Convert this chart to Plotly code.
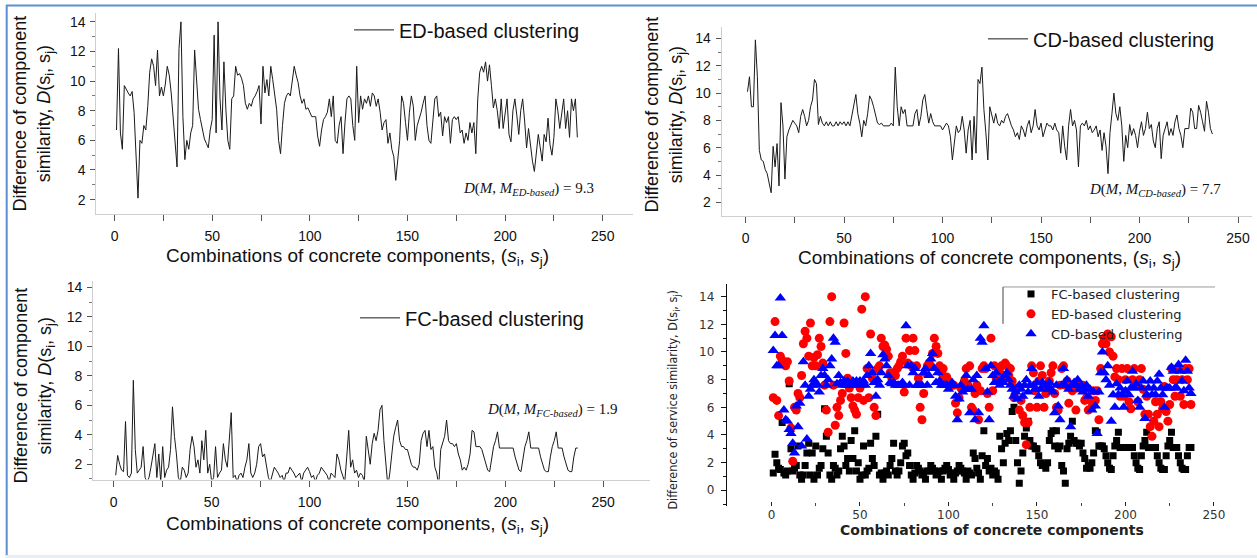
import plotly.graph_objects as go

W, H = 1257, 558

# ---------------- data ----------------
ed_vals = [
    6.7, 12.2, 6.5, 5.4, 9.7, 9.4, 9.2, 9.0, 9.3, 7.9,
    4.5, 2.1, 6.0, 5.8, 7.0, 6.7, 8.3, 10.6, 11.5, 11.0,
    9.7, 12.1, 9.0, 9.6, 9.0, 9.8, 11.0, 10.4, 9.2, 7.6,
    5.8, 4.2, 12.2, 14.0, 7.6, 4.7, 6.0, 5.4, 6.5, 7.0,
    12.1, 9.9, 8.1, 7.4, 6.7, 6.1, 5.8, 5.5, 6.7, 7.4,
    13.1, 6.5, 14.0, 8.8, 6.7, 11.3, 8.1, 6.0, 5.4, 8.8,
    9.0, 11.0, 10.4, 10.5, 10.2, 9.7, 8.5, 8.1, 8.5, 8.3,
    8.8, 9.0, 9.3, 9.7, 7.1, 11.0, 9.2, 10.1, 9.0, 11.0,
    10.1, 9.0, 8.1, 6.0, 5.1, 7.0, 8.5, 9.0, 9.2, 9.0,
    9.9, 11.0, 10.4, 9.9, 9.0, 8.5, 8.8, 8.1, 8.2, 7.9,
    7.6, 7.6, 7.6, 6.3, 5.6, 6.7, 7.4, 7.6, 7.9, 8.8,
    7.6, 9.0, 6.0, 5.8, 7.0, 7.6, 5.1, 7.2, 8.8, 9.0,
    8.8, 7.0, 6.0, 11.0, 7.2, 9.0, 8.1, 8.8, 8.5, 9.0,
    8.3, 9.2, 9.0, 8.3, 8.8, 7.9, 6.7, 7.2, 7.4, 5.8,
    6.5, 5.4, 4.9, 3.3, 4.9, 6.0, 9.0, 8.5, 7.2, 6.0,
    7.9, 9.0, 8.3, 6.0, 7.0, 7.4, 7.9, 8.5, 9.0, 7.0,
    6.0, 5.8, 7.6, 8.8, 9.0, 7.6, 7.9, 6.3, 7.6, 7.2,
    7.6, 5.8, 7.4, 7.6, 7.4, 7.6, 6.5, 6.7, 5.8, 6.5,
    6.0, 7.2, 6.5, 7.2, 5.1, 8.8, 10.6, 11.0, 10.6, 11.3,
    10.0, 11.1, 9.7, 8.2, 8.8, 8.0, 6.8, 8.8, 6.8, 8.0,
    8.8, 6.4, 5.9, 8.0, 8.8, 7.7, 6.4, 8.0, 8.8, 7.3,
    5.5, 6.8, 5.5, 4.6, 3.9, 5.0, 6.4, 5.5, 4.6, 6.4,
    5.9, 7.5, 5.7, 5.0, 6.2, 8.8, 8.0, 6.8, 8.0, 8.8,
    6.8, 8.0, 6.2, 8.8, 8.0, 8.8, 6.2,
]

cd_vals = [
    10.1, 11.2, 9.0, 9.0, 13.9, 11.2, 5.8, 5.1, 5.0, 4.4,
    4.1, 3.4, 2.7, 6.1, 4.6, 6.3, 3.2, 9.3, 7.6, 3.7,
    6.8, 7.3, 7.6, 8.0, 7.8, 7.6, 7.1, 8.3, 8.8, 8.3,
    7.6, 8.0, 9.0, 9.5, 11.0, 10.7, 7.7, 8.3, 7.8, 7.6,
    7.9, 7.6, 7.9, 7.6, 7.6, 7.9, 7.6, 7.9, 7.7, 7.9,
    7.6, 7.9, 7.6, 8.3, 9.0, 9.9, 8.5, 7.8, 6.8, 8.0,
    7.6, 8.5, 9.8, 9.5, 9.0, 8.3, 7.8, 7.7, 7.8, 7.6,
    7.6, 7.6, 7.6, 7.8, 7.6, 11.9, 9.0, 7.6, 9.0, 8.5,
    8.8, 7.6, 7.6, 7.6, 7.6, 8.5, 8.8, 7.6, 8.3, 9.5,
    9.9, 8.8, 7.8, 8.5, 7.9, 7.6, 7.6, 7.6, 7.6, 7.3,
    7.6, 7.8, 7.6, 6.8, 5.1, 6.6, 7.6, 7.1, 7.3, 8.3,
    7.3, 5.6, 7.3, 8.0, 5.1, 8.3, 5.6, 11.0, 10.7, 11.9,
    8.8, 7.1, 5.1, 9.0, 8.3, 7.8, 8.5, 7.8, 7.6, 8.0,
    7.8, 8.3, 8.5, 8.0, 7.6, 7.3, 6.8, 7.1, 6.6, 7.6,
    7.3, 6.8, 7.6, 8.0, 7.1, 7.6, 8.8, 7.6, 7.3, 7.8,
    6.8, 7.3, 7.8, 7.6, 7.6, 7.3, 7.8, 7.3, 7.1, 5.6,
    7.6, 6.1, 5.1, 7.6, 8.8, 7.6, 8.0, 7.3, 4.6, 7.6,
    7.8, 7.6, 8.0, 7.3, 7.6, 7.1, 7.3, 7.6, 6.8, 7.3,
    5.8, 7.1, 6.1, 4.1, 7.1, 8.5, 10.0, 8.5, 8.0, 9.0,
    7.6, 5.0, 6.9, 6.0, 7.7, 6.9, 7.4, 6.9, 6.0, 7.2,
    7.9, 6.9, 7.4, 8.6, 7.4, 7.7, 6.5, 6.0, 7.4, 7.9,
    5.2, 6.9, 7.4, 7.9, 6.9, 7.4, 6.9, 7.9, 8.4, 7.4,
    6.9, 6.0, 7.4, 7.4, 7.4, 8.9, 8.6, 7.4, 7.4, 9.1,
    8.6, 7.9, 7.2, 9.4, 8.6, 7.4, 7.0,
]

fc_vals = [
    1.25, 2.6, 2.0, 1.6, 1.5, 4.9, 1.25, 1.1, 1.4, 7.7,
    3.0, 1.4, 1.6, 1.8, 3.2, 1.1, 0.8, 1.1, 1.8, 2.7,
    3.4, 1.1, 2.7, 0.8, 3.2, 1.1, 1.6, 1.8, 3.0, 5.9,
    3.9, 2.7, 1.1, 0.8, 1.8, 1.6, 1.1, 1.4, 3.0, 3.9,
    3.2, 1.8, 2.3, 1.4, 3.6, 2.3, 4.3, 1.4, 2.0, 0.8,
    1.1, 3.2, 1.1, 1.4, 1.6, 3.4, 2.3, 1.8, 3.9, 5.5,
    1.1, 1.25, 0.8, 1.25, 1.4, 1.1, 1.8, 2.3, 3.4, 1.4,
    1.1, 1.4, 2.0, 3.2, 3.4, 2.5, 2.7, 1.8, 1.1, 0.8,
    1.25, 1.8, 1.6, 1.4, 1.1, 1.25, 0.8, 1.4, 1.4, 1.8,
    1.6, 1.4, 1.1, 1.25, 1.4, 0.8, 1.4, 1.6, 1.8, 1.5,
    1.1, 1.25, 0.8, 1.25, 1.4, 1.8, 1.6, 1.4, 1.25, 0.8,
    1.4, 1.25, 1.1, 2.7, 2.3, 1.6, 1.25, 0.8, 2.5, 4.3,
    1.8, 2.3, 1.4, 1.6, 1.1, 1.4, 1.25, 0.8, 3.9, 3.0,
    2.0, 3.4, 4.1, 3.6, 4.3, 5.7, 6.0, 3.6, 2.0, 0.5,
    1.4, 2.7, 3.9, 4.5, 5.0, 3.6, 3.2, 3.2, 3.0, 3.0,
    2.5, 2.0, 1.8, 1.8, 1.6, 2.0, 3.6, 4.1, 4.3, 3.2,
    4.3, 3.0, 3.2, 1.8, 1.4, 0.5, 3.0, 3.4, 3.9, 5.0,
    3.6, 3.4, 3.4, 3.2, 3.4, 2.7, 2.3, 1.6, 1.8, 1.6,
    2.0, 2.7, 4.3, 4.2, 3.2, 3.2, 3.2, 3.0, 2.5, 2.0,
    1.6, 1.5, 2.5, 3.2, 3.6, 4.2, 3.1, 3.1, 3.1, 3.1,
    3.1, 3.1, 3.1, 3.1, 2.5, 2.0, 1.6, 1.5, 2.5, 3.2,
    3.6, 4.2, 3.1, 3.1, 3.1, 3.1, 3.1, 2.5, 2.0, 1.6,
    1.5, 1.5, 2.5, 3.2, 3.6, 4.2, 3.1, 3.1, 3.1, 2.5,
    2.0, 1.6, 1.5, 1.5, 2.5, 3.1, 3.1,
]

series_names = ["FC-based clustering", "ED-based clustering", "CD-based clustering"]
d_scores = {"ED": "9.3", "CD": "7.7", "FC": "1.9"}
x_dtick = 50
y_dtick = 2

ed_x = list(range(1, len(ed_vals) + 1))
cd_x = list(range(1, len(cd_vals) + 1))
fc_x = list(range(1, len(fc_vals) + 1))

# ---------------- helpers ----------------
def fx(p):
    return p / W


def fy(p):
    return 1 - p / H


SANS = "Liberation Sans, Arial, sans-serif"
SERIF = "Liberation Serif, Times New Roman, serif"
WIDE = "DejaVu Sans, Verdana, sans-serif"
NARROW = "Liberation Sans Narrow, Arial Narrow, DejaVu Sans Condensed, sans-serif"

LINE_COLOR = "#1a1a1a"


def line_xaxis(dom, rng, anchor):
    return dict(
        domain=[fx(dom[0]), fx(dom[1])], range=rng, anchor=anchor,
        showline=True, linecolor="#cfcfcf", linewidth=1,
        showgrid=False, zeroline=False,
        tick0=0, dtick=x_dtick, ticks="outside", ticklen=6, tickcolor="#555",
        minor=dict(dtick=25, ticks="outside", ticklen=6, tickcolor="#555"),
        tickfont=dict(family=SANS, size=14, color="#111"),
        ticklabelstandoff=4,
    )


def line_yaxis(dom, rng, anchor):
    return dict(
        domain=[fy(dom[1]), fy(dom[0])], range=rng, anchor=anchor,
        showline=True, linecolor="#cfcfcf", linewidth=1,
        showgrid=False, zeroline=False,
        tick0=0, dtick=y_dtick, ticks="outside", ticklen=5, tickcolor="#555",
        minor=dict(dtick=1, ticks="outside", ticklen=3, tickcolor="#777"),
        tickfont=dict(family=SANS, size=14, color="#111"),
        ticklabelstandoff=2,
    )


fig = go.Figure()

# ---- line panels ----
fig.add_trace(go.Scatter(x=ed_x, y=ed_vals, mode="lines", name=series_names[1],
                         line=dict(color=LINE_COLOR, width=1),
                         xaxis="x", yaxis="y", legend="legend"))
fig.add_trace(go.Scatter(x=cd_x, y=cd_vals, mode="lines", name=series_names[2],
                         line=dict(color=LINE_COLOR, width=1),
                         xaxis="x2", yaxis="y2", legend="legend2"))
fig.add_trace(go.Scatter(x=fc_x, y=fc_vals, mode="lines", name=series_names[0],
                         line=dict(color=LINE_COLOR, width=1),
                         xaxis="x3", yaxis="y3", legend="legend3"))

# ---- scatter panel ----
fig.add_trace(go.Scatter(x=fc_x, y=fc_vals, mode="markers", name=series_names[0],
                         marker=dict(symbol="square", size=7, color="#000000"),
                         xaxis="x4", yaxis="y4", legend="legend4"))
fig.add_trace(go.Scatter(x=ed_x, y=ed_vals, mode="markers", name=series_names[1],
                         marker=dict(symbol="circle", size=9, color="#ff0000"),
                         xaxis="x4", yaxis="y4", legend="legend4"))
fig.add_trace(go.Scatter(x=cd_x, y=cd_vals, mode="markers", name=series_names[2],
                         marker=dict(symbol="triangle-up", size=10, color="#0000ff"),
                         xaxis="x4", yaxis="y4", legend="legend4"))

legend_common = dict(bgcolor="rgba(0,0,0,0)", borderwidth=0, xanchor="left",
                     yanchor="middle", itemwidth=40,
                     font=dict(family=SANS, size=20, color="#111"))

layout = dict(
    width=W, height=H, margin=dict(l=0, r=0, t=0, b=0),
    paper_bgcolor="white", plot_bgcolor="white", showlegend=True,
    xaxis=line_xaxis((96.4, 633), [-9.3, 265.5], "y"),
    yaxis=line_yaxis((11, 212.3), [1.06, 14.6], "x"),
    xaxis2=line_xaxis((721.7, 1252), [-12.1, 257.1], "y2"),
    yaxis2=line_yaxis((25, 214.3), [1.03, 14.85], "x2"),
    xaxis3=line_xaxis((93.2, 650), [-10.5, 273.9], "y3"),
    yaxis3=line_yaxis((280, 479.3), [0.96, 14.44], "x3"),
    xaxis4=dict(
        domain=[fx(726.9), fx(1235)], range=[-25.2, 261.9], anchor="y4",
        showline=False, showgrid=False, zeroline=False,
        tick0=0, dtick=x_dtick, ticks="inside", ticklen=4, tickcolor="#222",
        minor=dict(dtick=25, ticks="inside", ticklen=3, tickcolor="#444"),
        tickfont=dict(family=WIDE, size=12, color="#333"),
        ticklabelstandoff=0,
    ),
    yaxis4=dict(
        domain=[fy(506), fy(282.7)], range=[-1.15, 14.94], anchor="x4",
        showline=True, linecolor="#111", linewidth=1.3,
        showgrid=False, zeroline=False,
        tick0=0, dtick=y_dtick, ticks="outside", ticklen=5, tickcolor="#111",
        minor=dict(dtick=1, ticks="outside", ticklen=3, tickcolor="#111"),
        tickfont=dict(family=WIDE, size=12, color="#333"),
        ticklabelstandoff=4,
    ),
    legend=dict(legend_common, x=fx(349), y=fy(28)),
    legend2=dict(legend_common, x=fx(983), y=fy(37)),
    legend3=dict(legend_common, x=fx(355), y=fy(317)),
    legend4=dict(bgcolor="rgba(0,0,0,0)", borderwidth=0, xanchor="left", yanchor="top",
                 x=fx(1011), y=fy(278), font=dict(family=WIDE, size=13, color="#222")),
)
fig.update_layout(**layout)

# ---------------- titles & notes ----------------
ytitle_line = "Difference of component<br>similarity, <i>D</i>(s<sub>i</sub>, s<sub>j</sub>)"
xtitle_line = "Combinations of concrete components, (<i>s</i><sub>i</sub>, <i>s</i><sub>j</sub>)"

ann = []
for cx, cy in [(33, 112), (665, 113), (34, 385)]:
    ann.append(dict(x=fx(cx), y=fy(cy), xref="paper", yref="paper", text=ytitle_line,
                    textangle=-90, showarrow=False, xanchor="center", yanchor="middle",
                    font=dict(family=SANS, size=18, color="#111")))
for cx, cy in [(358, 256), (989, 258), (358, 525)]:
    ann.append(dict(x=fx(cx), y=fy(cy), xref="paper", yref="paper", text=xtitle_line,
                    showarrow=False, xanchor="center", yanchor="middle",
                    font=dict(family=SANS, size=19, color="#111")))

for key, cx, cy in [("ED", 461, 188), ("CD", 1087, 189), ("FC", 485, 409)]:
    ann.append(dict(x=fx(cx), y=fy(cy), xref="paper", yref="paper",
                    text=f"<i>D</i>(<i>M</i>, <i>M</i><sub><i>{key}-based</i></sub>) = {d_scores[key]}",
                    showarrow=False, xanchor="left", yanchor="middle",
                    font=dict(family=SERIF, size=15, color="#111")))

# scatter panel titles
ann.append(dict(x=fx(992), y=fy(530), xref="paper", yref="paper",
                text="<b>Combinations of concrete components</b>", showarrow=False,
                xanchor="center", yanchor="middle",
                font=dict(family=WIDE, size=14, color="#222")))
ann.append(dict(x=fx(674), y=fy(399), xref="paper", yref="paper",
                text="Difference of service similarity, D(s<sub>i</sub>, s<sub>j</sub>)",
                textangle=-90, showarrow=False, xanchor="center", yanchor="middle",
                font=dict(family=NARROW, size=12.5, color="#222")))
fig.update_layout(annotations=ann)

# ---------------- frame and legend box lines ----------------
shapes = [
    dict(type="line", xref="paper", yref="paper", x0=fx(6.7), x1=fx(6.7), y0=fy(3), y1=fy(556),
         line=dict(color="#5b8fd1", width=2)),
    dict(type="line", xref="paper", yref="paper", x0=fx(6), x1=1, y0=fy(3.5), y1=fy(3.5),
         line=dict(color="#5b8fd1", width=2)),
    dict(type="rect", xref="paper", yref="paper", x0=fx(6), x1=1, y0=0, y1=fy(555),
         line=dict(width=0), fillcolor="#e9eef4"),
    dict(type="line", xref="paper", yref="paper", x0=fx(1003), x1=fx(1215), y0=fy(286), y1=fy(286),
         line=dict(color="#9a9a9a", width=1)),
    dict(type="line", xref="paper", yref="paper", x0=fx(1003), x1=fx(1003), y0=fy(286), y1=fy(323),
         line=dict(color="#444", width=1)),
]
fig.update_layout(shapes=shapes)

fig.write_html(
    "out.html",
    config={"displayModeBar": False},
    post_script=(
        "document.body.style.margin='0px';"
        "document.body.style.overflow='hidden';"
        "document.documentElement.style.overflow='hidden';"
    ),
)
